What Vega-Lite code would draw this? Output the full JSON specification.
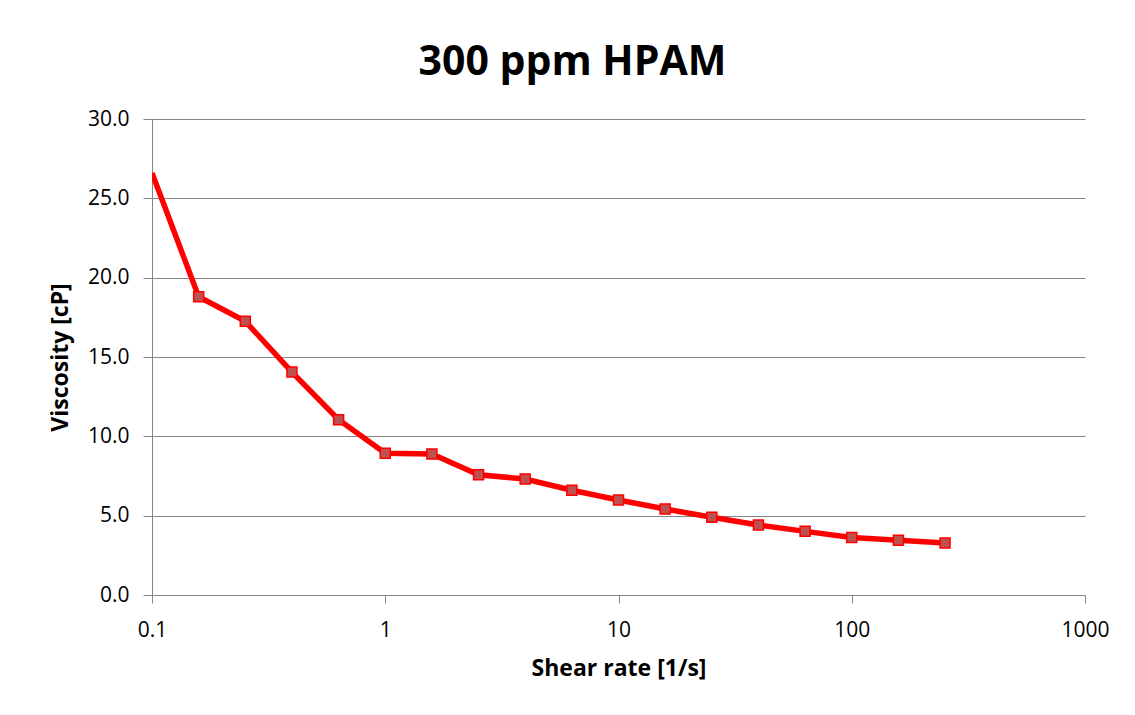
{
  "$schema": "https://vega.github.io/schema/vega-lite/v6.json",
  "width": 933,
  "height": 476,
  "autosize": "none",
  "padding": {"left": 152, "top": 119, "right": 50, "bottom": 120},
  "background": "white",
  "title": {
    "text": "300 ppm HPAM",
    "font": "Open Sans",
    "fontSize": 41,
    "fontWeight": "bold",
    "color": "#000000",
    "anchor": "middle",
    "baseline": "alphabetic",
    "offset": -8,
    "dx": -46
  },
  "data": {
    "values": [
      {"shear": 0.1, "visc": 26.6},
      {"shear": 0.1585, "visc": 18.8},
      {"shear": 0.2512, "visc": 17.25},
      {"shear": 0.3981, "visc": 14.05},
      {"shear": 0.631, "visc": 11.05},
      {"shear": 1.0, "visc": 8.93},
      {"shear": 1.585, "visc": 8.88},
      {"shear": 2.512, "visc": 7.58},
      {"shear": 3.981, "visc": 7.31},
      {"shear": 6.31, "visc": 6.6},
      {"shear": 10.0, "visc": 5.99},
      {"shear": 15.85, "visc": 5.42},
      {"shear": 25.12, "visc": 4.9},
      {"shear": 39.81, "visc": 4.41},
      {"shear": 63.1, "visc": 4.01},
      {"shear": 100.0, "visc": 3.63},
      {"shear": 158.5, "visc": 3.45},
      {"shear": 251.2, "visc": 3.28}
    ]
  },
  "encoding": {
    "x": {
      "field": "shear",
      "type": "quantitative",
      "scale": {"type": "log", "domain": [0.1, 1000], "nice": false},
      "axis": {
        "title": "Shear rate [1/s]",
        "values": [0.1, 1, 10, 100, 1000],
        "format": "~g",
        "grid": false,
        "labelFlush": false,
        "labelOverlap": false,
        "domainColor": "#868686",
        "tickColor": "#868686",
        "tickSize": 8,
        "labelPadding": 16,
        "labelFont": "Open Sans",
        "labelFontSize": 21,
        "labelColor": "#000000",
        "titleFont": "Open Sans",
        "titleFontSize": 23,
        "titleFontWeight": "bold",
        "titleColor": "#000000",
        "titlePadding": 17
      }
    },
    "y": {
      "field": "visc",
      "type": "quantitative",
      "scale": {"domain": [0, 30], "nice": false},
      "axis": {
        "title": "Viscosity [cP]",
        "values": [0, 5, 10, 15, 20, 25, 30],
        "format": ".1f",
        "grid": true,
        "gridColor": "#868686",
        "gridWidth": 1,
        "domainColor": "#868686",
        "tickColor": "#868686",
        "tickSize": 9,
        "labelPadding": 14,
        "labelFont": "Open Sans",
        "labelFontSize": 21,
        "labelColor": "#000000",
        "titleFont": "Open Sans",
        "titleFontSize": 23,
        "titleFontWeight": "bold",
        "titleColor": "#000000",
        "titlePadding": 15
      }
    }
  },
  "layer": [
    {
      "mark": {"type": "line", "color": "#FF0000", "strokeWidth": 5.5, "clip": true}
    },
    {
      "transform": [{"filter": "datum.shear > 0.11"}],
      "mark": {
        "type": "square",
        "size": 100,
        "fill": "#C0504D",
        "fillOpacity": 1,
        "stroke": "#FF0000",
        "strokeWidth": 1.5,
        "opacity": 1
      }
    }
  ],
  "config": {
    "view": {"stroke": null}
  }
}
